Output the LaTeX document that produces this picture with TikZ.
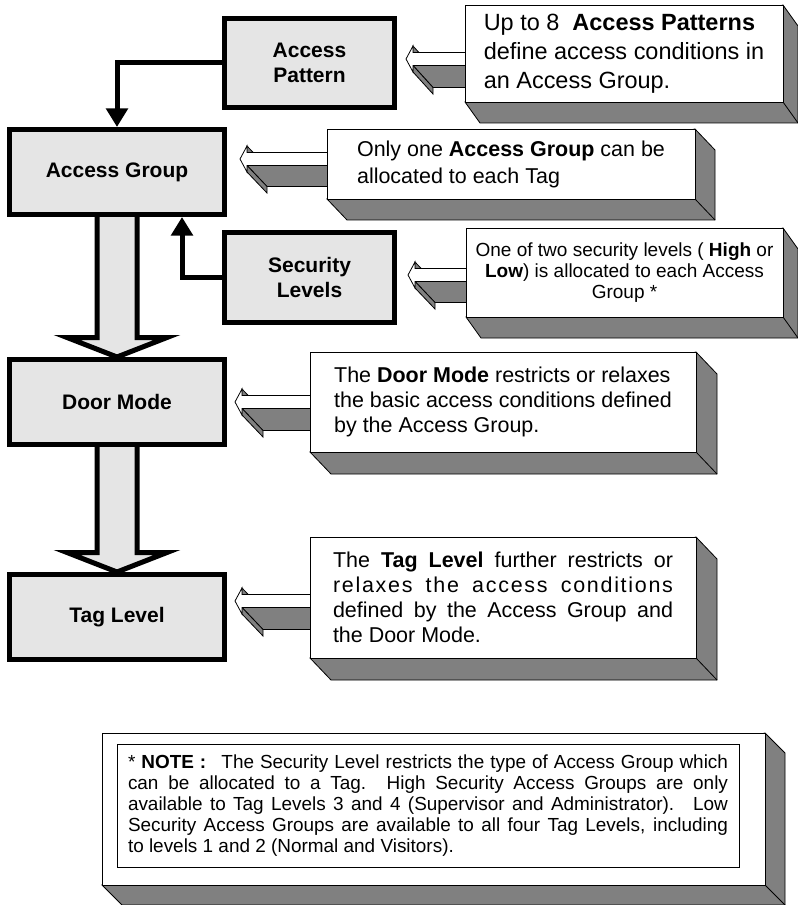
\documentclass[tikz,border=0pt]{standalone}
\usepackage{fontspec}
\setmainfont{Liberation Sans}
\usetikzlibrary{arrows.meta,calc}
\pgfdeclarelayer{background}
\pgfsetlayers{background,main}
\definecolor{boxgray}{RGB}{229,229,229}
\definecolor{shadegray}{RGB}{128,128,128}
\newcommand{\fsz}[2]{\fontsize{#1}{#2}\selectfont}
% 3D callout: name, x1, y1, x2, y2, dx, dy, node options, text
\newcommand{\calloutbox}[9]{%
  \filldraw[cface] (#4,#3) -- (#4+#6,#3+#7) -- (#4+#6,#5+#7) -- (#2+#6,#5+#7) -- (#2,#5) -- cycle;
  \draw[line width=0.6pt] (#4,#5) -- (#4+#6,#5+#7);
  \node[cfront, minimum width={(#4-#2)*0.75pt}, minimum height={(#5-#3)*0.75pt}, #8] (#1) at ({(#2+#4)/2},{(#3+#5)/2}) {#9};
}
% 3D hollow arrow pointing left: tip x, tip y, end x, dx, dy
\newcommand{\calarrow}[5]{%
  \begin{scope}[shift={(#1,#2)}]
    \pgfmathsetmacro\cend{#3-#1}
    \filldraw[cface] (7,-13) -- (7,-6.5) -- (7+#4,-6.5+#5) -- (7+#4,-13+#5) -- cycle;
    \filldraw[cface] (7,6.5) -- (\cend,6.5) -- (\cend+#4,6.5+#5) -- (7+#4,6.5+#5) -- cycle;
    \filldraw[cface] (7,6.5) -- (7,13) -- (7+#4,13+#5) -- (7+#4,6.5+#5) -- cycle;
    \filldraw[fill=white,draw=black,line width=0.6pt] (0,0) -- (7,-13) -- (7,-6.5) -- (\cend,-6.5) -- (\cend,6.5) -- (7,6.5) -- (7,13) -- cycle;
  \end{scope}
}
\begin{document}
\begin{tikzpicture}[x=0.75pt,y=-0.75pt,
  box/.style={draw=black, line width=3.75pt, fill=boxgray, inner sep=0pt, align=center, font=\fsz{15.75}{18.75}\bfseries},
  conn/.style={line width=3.75pt, -{Triangle[width=16pt,length=14pt]}},
  blockarrow/.style={draw=black, line width=3.75pt, fill=boxgray, line join=miter},
  cface/.style={fill=shadegray, draw=black, line width=0.6pt},
  cfront/.style={fill=white, draw=black, line width=0.6pt, inner sep=0pt, align=left},
]
\useasboundingbox (0,0) rectangle (798,905);

% main boxes
\node[box, minimum width=127.5pt, minimum height=66.75pt] (AP) at (309.5,63) {Access\\Pattern};
\node[box, minimum width=161.25pt, minimum height=63.75pt] (AG) at (117,172) {Access Group};
\node[box, minimum width=127.5pt, minimum height=67.5pt] (SL) at (309.5,277.5) {Security\\Levels};
\node[box, minimum width=161.25pt, minimum height=63.75pt] (DM) at (117,402) {Door Mode};
\node[box, minimum width=161.25pt, minimum height=63.75pt] (TL) at (117,617) {Tag Level};

% callouts
\calloutbox{c1}{465}{5}{783}{102}{15}{21}{font=\fsz{17.6}{21.75}}{Up to 8 \ \textbf{Access Patterns}\\define access conditions in\\an Access Group.}
\calloutbox{c2}{327}{129}{695}{199}{20}{21}{font=\fsz{16.1}{20.25}}{Only one \textbf{Access Group} can be\\allocated to each Tag}
\calloutbox{c3}{466}{228}{783}{317}{15}{21}{font=\fsz{14.25}{15.75}, align=center}{One of two security levels ( \textbf{High} or\\\textbf{Low}) is allocated to each Access\\Group *}
\calloutbox{c4}{310}{352}{696}{452}{21}{22}{font=\fsz{16.1}{18.75}}{The \textbf{Door Mode} restricts or relaxes\\the basic access conditions defined\\by the Access Group.}
\calloutbox{c5}{310}{537}{696}{658}{21}{22}{font=\fsz{16.1}{18.75}}{\makebox[255pt][s]{The \textbf{Tag Level} further restricts or}\\\makebox[255pt][s]{\addfontfeature{LetterSpace=8}relaxes the access conditions}\\\makebox[255pt][s]{defined by the Access Group and}\\the Door Mode.}
\calloutbox{note}{102}{733}{765}{885}{20}{20}{}{}
\node[draw=black, line width=0.6pt, minimum width=466.5pt, minimum height=92.25pt, font=\fsz{14.2}{15.75}, align=left, inner sep=0pt] (notein) at (428,805.5)
 {\makebox[450pt][s]{* \textbf{NOTE :}\hspace{0.8em}The Security Level restricts the type of Access Group which}\\
  \makebox[450pt][s]{can be allocated to a Tag. High Security Access Groups are only}\\
  \makebox[450pt][s]{available to Tag Levels 3 and 4 (Supervisor and Administrator).\hspace{0.3em} Low}\\
  \makebox[450pt][s]{Security Access Groups are available to all four Tag Levels, including}\\
  to levels 1 and 2 (Normal and Visitors).};

% connectors
\coordinate (sj) at ($(AG.south)+(65,0)$);
\draw[conn] (AP.west) -| (AG.north);
\draw[conn] (SL.west) -| (sj);

\begin{pgfonlayer}{background}
  \fill[white] (0,0) rectangle (798,905);
  % block arrows
  \coordinate (h1) at (117,337.5);
  \coordinate (h2) at (117,552.5);
  \draw[blockarrow] ($(AG.south)+(-20,-3)$) -- ($(h1)+(-20,0)$) -- ($(h1)+(-50,0)$) -- (DM.north) -- ($(h1)+(50,0)$) -- ($(h1)+(20,0)$) -- ($(AG.south)+(20,-3)$);
  \draw[blockarrow] ($(DM.south)+(-20,-3)$) -- ($(h2)+(-20,0)$) -- ($(h2)+(-50,0)$) -- (TL.north) -- ($(h2)+(50,0)$) -- ($(h2)+(20,0)$) -- ($(DM.south)+(20,-3)$);
  % callout arrows
  \calarrow{406}{59}{467}{20}{22}
  \calarrow{240}{159}{329}{20}{21}
  \calarrow{408}{275}{468}{20}{21}
  \calarrow{235}{402}{312}{21}{22}
  \calarrow{235}{601}{312}{21}{22}
\end{pgfonlayer}
\end{tikzpicture}
\end{document}
